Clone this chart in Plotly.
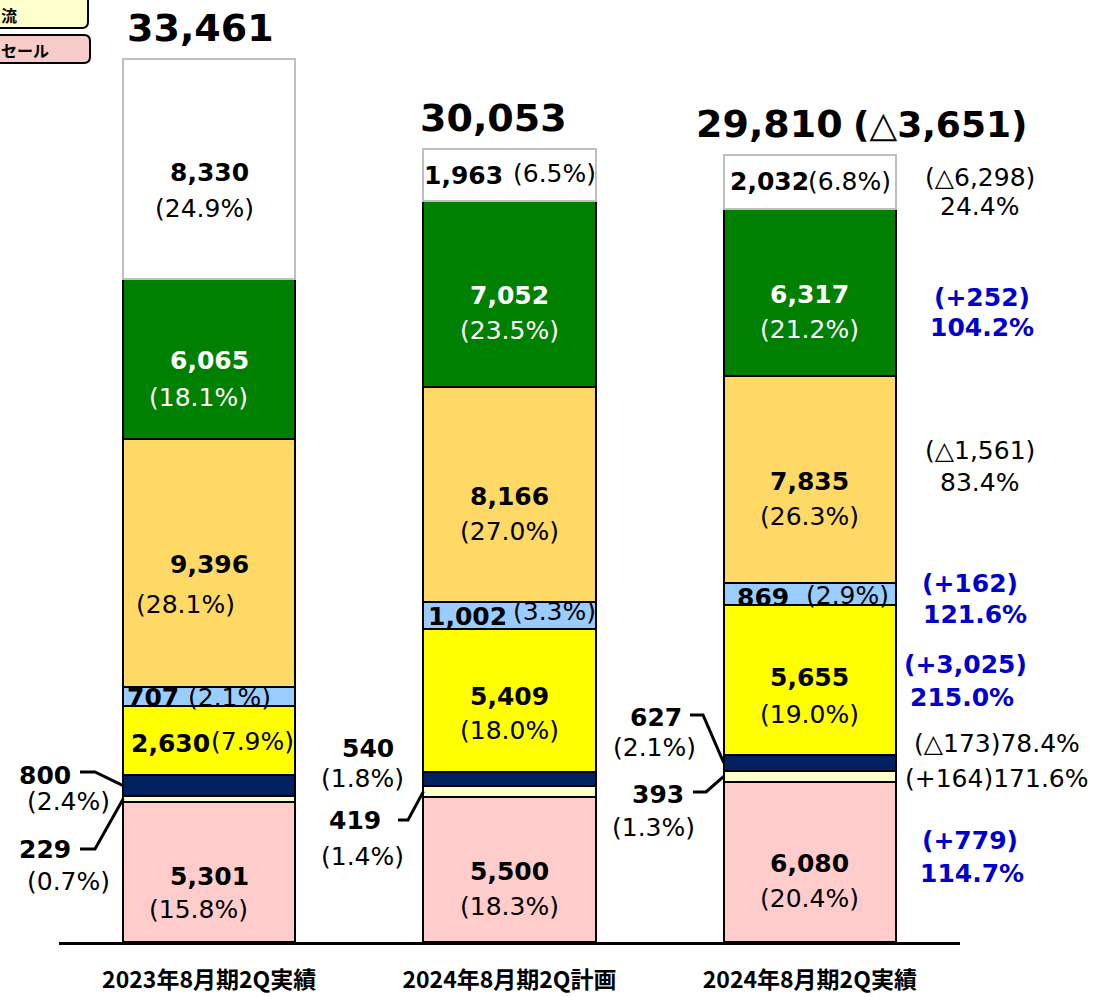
import plotly.graph_objects as go

# ---------------- data ----------------
categories = ["2023年8月期2Q実績", "2024年8月期2Q計画", "2024年8月期2Q実績"]

# segments, bottom to top
seg_names = ["区分A", "区分B", "区分C", "区分D", "区分E", "区分F", "区分G", "区分H"]
seg_values = [
    [5301, 5500, 6080],   # pink
    [229, 419, 393],      # light yellow
    [800, 540, 627],      # navy
    [2630, 5409, 5655],   # yellow
    [707, 1002, 869],     # light blue
    [9396, 8166, 7835],   # gold
    [6065, 7052, 6317],   # green
    [8330, 1963, 2032],   # white
]
seg_pcts = [
    ["15.8%", "18.3%", "20.4%"],
    ["0.7%", "1.4%", "1.3%"],
    ["2.4%", "1.8%", "2.1%"],
    ["7.9%", "18.0%", "19.0%"],
    ["2.1%", "3.3%", "2.9%"],
    ["28.1%", "27.0%", "26.3%"],
    ["18.1%", "23.5%", "21.2%"],
    ["24.9%", "6.5%", "6.8%"],
]
totals = [33461, 30053, 29810]
total_diff = "△3,651"
# comparison of last bar vs first bar, per segment (bottom to top)
diff_texts = ["+779", "+164", "△173", "+3,025", "+162", "△1,561", "+252", "△6,298"]
ratio_texts = ["114.7%", "171.6%", "78.4%", "215.0%", "121.6%", "83.4%", "104.2%", "24.4%"]
legend_labels = ["流", "セール"]

# ---------------- styles ----------------
seg_colors = ["#FFCCCC", "#FFFFCC", "#002060", "#FFFF00", "#99CCFF", "#FFD966", "#008000", "#FFFFFF"]
seg_line = ["black"] * 7 + ["#BFBFBF"]
text_colors = ["black"] * 6 + ["white", "black"]
BLUE = "#0000CC"
FONT = "DejaVu Sans"
VSIZE = 25   # bold values
PSIZE = 25   # percentages / normal text

W, H = 1093, 997
ML, MR, MT, MB = 59, 133, 0, 55
PW, PH = W - ML - MR, H - MT - MB
XR = (-0.5, 2.5)
YMAX = 35700
BW = 0.573
PXU = PW / (XR[1] - XR[0])


def cx(i):
    return ML + (i - XR[0]) * PXU


def px2x(px):
    return XR[0] + (px - ML) / PXU


def py2y(py):
    return (MT + PH - py) / PH * YMAX


fig = go.Figure()
for j in range(len(seg_values)):
    fig.add_trace(go.Bar(
        x=list(range(3)), y=seg_values[j], name=seg_names[j], width=BW,
        marker=dict(color=seg_colors[j], line=dict(color=seg_line[j], width=2)),
        hoverinfo="skip",
    ))

anns = []


def ann(i, y, text, dx=0, dy=0, size=PSIZE, bold=False, color="black", family=FONT, xanchor="center"):
    anns.append(dict(
        x=i, y=y, xref="x", yref="y", text=f"<b>{text}</b>" if bold else text,
        showarrow=False, xshift=dx, yshift=-dy, xanchor=xanchor, yanchor="middle",
        font=dict(family=family, size=size, color=color),
    ))


def ann_px(i, px, py, text, **kw):
    ann(i, py2y(py), text, dx=px - cx(i), **kw)


# inline (single-line) labels: (bar, seg): (dx_val, dy_val, dx_pct, dy_pct)
inline = {
    (0, 3): (-39, 3, 43, 1),
    (0, 4): (-56, 1, 20, 1),
    (1, 7): (-46, 1, 45, -1),
    (1, 4): (-42, 1, 45, -4),
    (2, 7): (-40, -1, 40, -1),
    (2, 4): (-47, 4, 38, 2),
}
# two-line label adjustments: (bar, seg): (dx_val, dy_val, dx_pct, dy_pct)
twoline = {
    (0, 0): (0, 4, -11, 37),
    (0, 5): (0, 2, -24, 42),
    (0, 6): (0, 2, -11, 39),
    (0, 7): (0, 3, -5, 39),
    (1, 3): (0, -4, 0, 30),
    (2, 3): (0, -3, 0, 34),
}
outside = {  # label positions (px) for thin segments
    (0, 2): ((45, 775), (68, 801)),
    (0, 1): ((45, 849), (68, 881)),
    (1, 2): ((368, 748), (362, 778)),
    (1, 1): ((355, 820), (362, 856)),
    (2, 2): ((656, 717), (655, 747)),
    (2, 1): ((658, 794), (654, 827)),
}
leaders = {  # leader line start (px) -> bar edge
    (0, 2): [(80, 772), (95, 772)],
    (0, 1): [(80, 849), (95, 849)],
    (1, 1): [(398, 820), (408, 820)],
    (2, 2): [(690, 715), (703, 715)],
    (2, 1): [(693, 792), (706, 792)],
}

shapes = []
for i in range(3):
    base = 0
    for j in range(len(seg_values)):
        v = seg_values[j][i]
        c = base + v / 2
        base += v
        val = f"{v:,}"
        pct = f"({seg_pcts[j][i]})"
        col = text_colors[j]
        if (i, j) in outside:
            (vx, vy), (qx, qy) = outside[(i, j)]
            ann_px(i, vx, vy, val, bold=True, size=VSIZE)
            ann_px(i, qx, qy, pct)
            if (i, j) in leaders:
                pts = leaders[(i, j)]
                path = "M " + " L ".join(f"{px2x(px)},{py2y(py)}" for px, py in pts)
                path += f" L {i - BW / 2},{c}"
                shapes.append(dict(type="path", xref="x", yref="y", path=path,
                                   line=dict(color="black", width=3)))
        elif (i, j) in inline:
            dxv, dyv, dxp, dyp = inline[(i, j)]
            ann(i, c, val, dx=dxv, dy=dyv, bold=True, color=col, size=VSIZE)
            ann(i, c, pct, dx=dxp, dy=dyp, color=col)
        else:
            dxv, dyv, dxp, dyp = twoline.get((i, j), (0, 2, 0, 37))
            ann(i, c, val, dx=dxv, dy=dyv, bold=True, color=col, size=VSIZE)
            ann(i, c, pct, dx=dxp, dy=dyp, color=col)

# totals
tot_dx = [-9, -16, -40]
for i in range(3):
    ann(i, totals[i], f"{totals[i]:,}", dx=tot_dx[i], dy=-31, size=38, bold=True)
ann(2, totals[2], f"({total_diff})", dx=940 - cx(2), dy=-31, size=36, bold=True)

# right-side comparison labels for the last bar
right_pos = [  # (px, py) of first line, (px, py) of second line or None
    ((970, 840), (972, 873)),
    ((997, 778), None),
    ((997, 743), None),
    ((966, 664), (962, 697)),
    ((970, 583), (975, 614)),
    ((980, 450), (980, 482)),
    ((982, 297), (982, 327)),
    ((980, 177), (980, 206)),
]
for j, (p1, p2) in enumerate(right_pos):
    plus = diff_texts[j].startswith("+")
    two = p2 is not None
    color = BLUE if (plus and two) else "black"
    bold = plus and two
    sz = VSIZE if bold else PSIZE
    if two:
        ann_px(2, p1[0], p1[1], f"({diff_texts[j]})", bold=bold, color=color, size=sz)
        ann_px(2, p2[0], p2[1], ratio_texts[j], bold=bold, color=color, size=sz)
    else:
        ann_px(2, p1[0], p1[1], f"({diff_texts[j]}){ratio_texts[j]}", color=color, size=sz)


# partially visible legend boxes at top-left (paper coordinates)
def ppx(px):
    return (px - ML) / PW


def ppy(py):
    return (MT + PH - py) / PH


def rrect(x0, y0, x1, y1, r=6):
    rx, ry = r / PW, r / PH
    X0, X1, Y0, Y1 = ppx(x0), ppx(x1), ppy(y0), ppy(y1)
    return (f"M {X0 + rx},{Y0} L {X1 - rx},{Y0} Q {X1},{Y0} {X1},{Y0 - ry} "
            f"L {X1},{Y1 + ry} Q {X1},{Y1} {X1 - rx},{Y1} L {X0 + rx},{Y1} "
            f"Q {X0},{Y1} {X0},{Y1 + ry} L {X0},{Y0 - ry} Q {X0},{Y0} {X0 + rx},{Y0} Z")


legend_boxes = [("#FFFFCC", -12, -10, 88, 28), ("#F8CBCB", -12, 35, 90, 63)]
for txt, (colr, x0, y0, x1, y1) in zip(legend_labels, legend_boxes):
    shapes.append(dict(type="path", xref="paper", yref="paper", path=rrect(x0, y0, x1, y1),
                       fillcolor=colr, line=dict(color="black", width=2)))
    anns.append(dict(x=ppx(0), y=ppy((max(y0, 0) + y1) / 2 + 1), xref="paper", yref="paper",
                     text=f"<b>{txt}</b>", showarrow=False, xanchor="left", yanchor="middle",
                     borderpad=0,
                     font=dict(family="Noto Sans CJK JP", size=16, color="black")))

fig.update_layout(
    width=W, height=H, margin=dict(l=ML, r=MR, t=MT, b=MB),
    barmode="stack", showlegend=False,
    plot_bgcolor="white", paper_bgcolor="white",
    annotations=anns, shapes=shapes,
    xaxis=dict(range=list(XR), tickvals=[0, 1, 2],
               ticktext=[f"<b>{c}</b>" for c in categories],
               tickfont=dict(family="Noto Sans CJK JP", size=23, color="black"),
               showline=True, linecolor="black", linewidth=3, ticks="",
               showgrid=False, zeroline=False, ticklabelstandoff=15,
               automargin=False),
    yaxis=dict(range=[0, YMAX], visible=False, showgrid=False, zeroline=False,
               automargin=False),
)

fig.write_html("out.html")
